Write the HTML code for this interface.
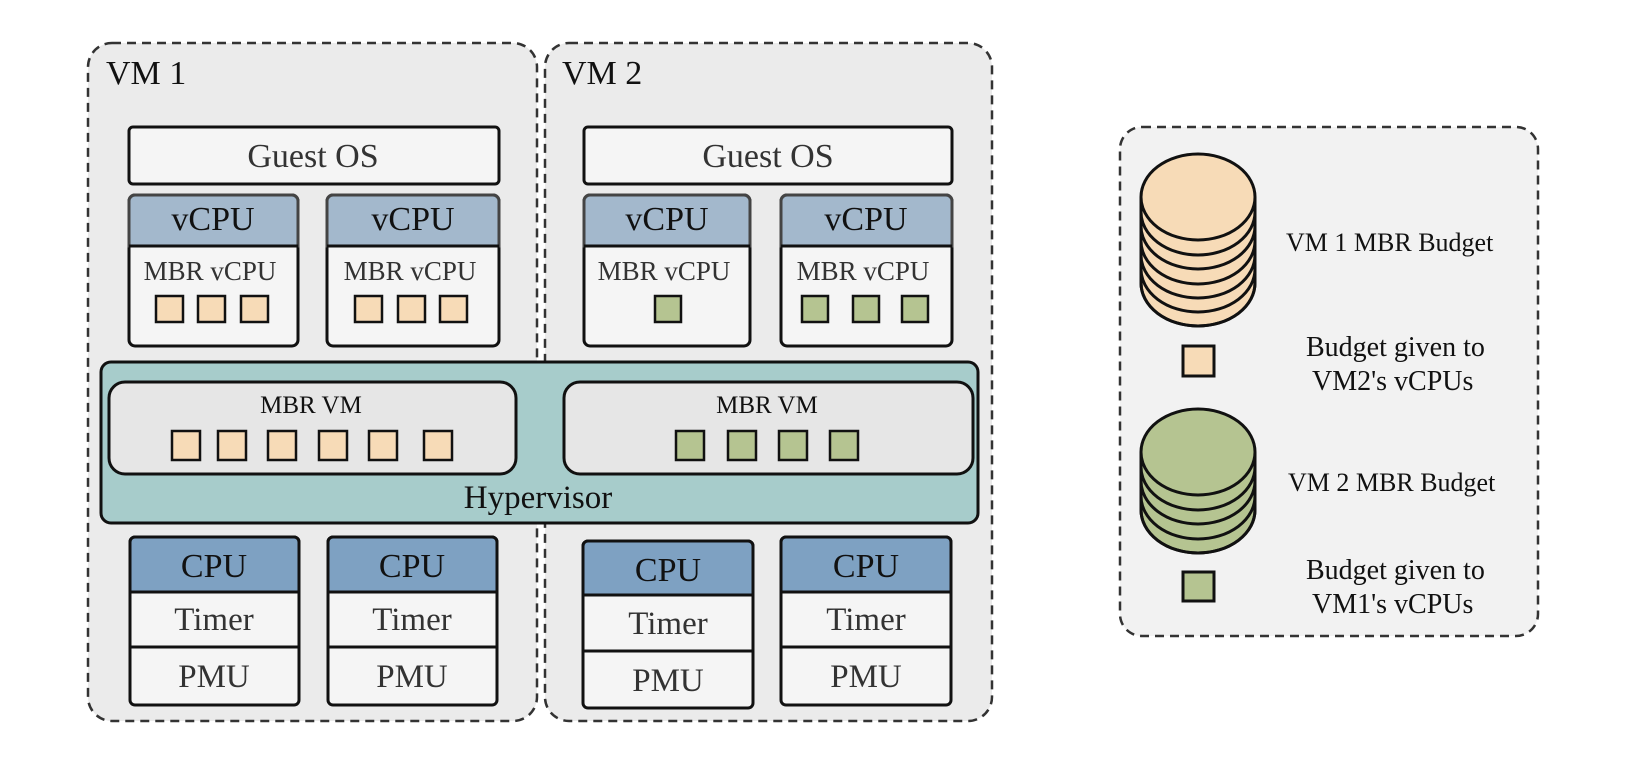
<!DOCTYPE html>
<html><head><meta charset="utf-8"><style>html,body{margin:0;padding:0;background:#fff}svg{display:block}</style></head>
<body>
<svg width="1628" height="765" viewBox="0 0 1628 765" xmlns="http://www.w3.org/2000/svg" font-family="Liberation Serif, serif">
<!-- VM containers -->
<rect x="88" y="43" width="449" height="678" rx="24" fill="#ebebeb" stroke="#333" stroke-width="2.5" stroke-dasharray="9 6"/>
<rect x="545" y="43" width="447" height="678" rx="24" fill="#ebebeb" stroke="#333" stroke-width="2.5" stroke-dasharray="9 6"/>
<text x="106" y="84" font-size="34" fill="#111">VM 1</text>
<text x="562" y="84" font-size="34" fill="#111">VM 2</text>

<g stroke="#111" stroke-width="3">
<rect x="129" y="127" width="370" height="57" rx="4" fill="#f5f5f5"/>
<rect x="584" y="127" width="368" height="57" rx="4" fill="#f5f5f5"/>
<rect x="129" y="195" width="169" height="151" rx="6" fill="#f5f5f5"/>
<path d="M129 246 V201 a6 6 0 0 1 6 -6 H292 a6 6 0 0 1 6 6 V246 Z" fill="#a3b8cc" stroke="#444"/>
<rect x="327" y="195" width="172" height="151" rx="6" fill="#f5f5f5"/>
<path d="M327 246 V201 a6 6 0 0 1 6 -6 H493 a6 6 0 0 1 6 6 V246 Z" fill="#a3b8cc" stroke="#444"/>
<rect x="584" y="195" width="166" height="151" rx="6" fill="#f5f5f5"/>
<path d="M584 246 V201 a6 6 0 0 1 6 -6 H744 a6 6 0 0 1 6 6 V246 Z" fill="#a3b8cc" stroke="#444"/>
<rect x="781" y="195" width="171" height="151" rx="6" fill="#f5f5f5"/>
<path d="M781 246 V201 a6 6 0 0 1 6 -6 H946 a6 6 0 0 1 6 6 V246 Z" fill="#a3b8cc" stroke="#444"/>
<line x1="129" y1="246" x2="298" y2="246"/><line x1="327" y1="246" x2="499" y2="246"/>
<line x1="584" y1="246" x2="750" y2="246"/><line x1="781" y1="246" x2="952" y2="246"/>
</g>
<g font-size="34" fill="#111" text-anchor="middle">
<text x="313" y="167" fill="#333">Guest OS</text>
<text x="768" y="167" fill="#333">Guest OS</text>
<text x="213" y="230">vCPU</text><text x="413" y="230">vCPU</text>
<text x="667" y="230">vCPU</text><text x="866" y="230">vCPU</text>
</g>
<g font-size="27" fill="#333" text-anchor="middle">
<text x="210" y="280">MBR vCPU</text><text x="410" y="280">MBR vCPU</text>
<text x="664" y="280">MBR vCPU</text><text x="863" y="280">MBR vCPU</text>
</g>
<g stroke="#111" stroke-width="2.5" fill="#f7dbb7">
<rect x="156" y="296" width="27" height="26"/><rect x="198" y="296" width="27" height="26"/><rect x="241" y="296" width="27" height="26"/>
<rect x="355" y="296" width="27" height="26"/><rect x="398" y="296" width="27" height="26"/><rect x="440" y="296" width="27" height="26"/>
</g>
<g stroke="#111" stroke-width="2.5" fill="#b5c491">
<rect x="655" y="296" width="26" height="26"/>
<rect x="802" y="296" width="26" height="26"/><rect x="853" y="296" width="26" height="26"/><rect x="902" y="296" width="26" height="26"/>
</g>

<!-- Hypervisor -->
<rect x="101" y="362" width="877" height="161" rx="10" fill="#a7cccb" stroke="#111" stroke-width="3"/>
<rect x="109" y="382" width="407" height="92" rx="16" fill="#e6e6e6" stroke="#111" stroke-width="3"/>
<rect x="564" y="382" width="409" height="92" rx="16" fill="#e6e6e6" stroke="#111" stroke-width="3"/>
<text x="311" y="413" font-size="25" text-anchor="middle" fill="#111">MBR VM</text>
<text x="767" y="413" font-size="25" text-anchor="middle" fill="#111">MBR VM</text>
<text x="538" y="508" font-size="33" text-anchor="middle" fill="#111">Hypervisor</text>
<g stroke="#111" stroke-width="2.5" fill="#f7dbb7">
<rect x="172" y="431" width="28" height="29"/><rect x="218" y="431" width="28" height="29"/><rect x="268" y="431" width="28" height="29"/>
<rect x="319" y="431" width="28" height="29"/><rect x="369" y="431" width="28" height="29"/><rect x="424" y="431" width="28" height="29"/>
</g>
<g stroke="#111" stroke-width="2.5" fill="#b5c491">
<rect x="676" y="431" width="28" height="29"/><rect x="728" y="431" width="28" height="29"/><rect x="779" y="431" width="28" height="29"/><rect x="830" y="431" width="28" height="29"/>
</g>

<!-- CPUs -->
<g stroke="#111" stroke-width="3">
<rect x="130" y="537" width="169" height="168" rx="5" fill="#f5f5f5"/>
<path d="M130 592 V542 a5 5 0 0 1 5 -5 H294 a5 5 0 0 1 5 5 V592 Z" fill="#7ea1c2"/>
<line x1="130" y1="647" x2="299" y2="647"/>
<rect x="328" y="537" width="169" height="168" rx="5" fill="#f5f5f5"/>
<path d="M328 592 V542 a5 5 0 0 1 5 -5 H492 a5 5 0 0 1 5 5 V592 Z" fill="#7ea1c2"/>
<line x1="328" y1="647" x2="497" y2="647"/>
<rect x="583" y="541" width="170" height="167" rx="5" fill="#f5f5f5"/>
<path d="M583 595 V546 a5 5 0 0 1 5 -5 H748 a5 5 0 0 1 5 5 V595 Z" fill="#7ea1c2"/>
<line x1="583" y1="651" x2="753" y2="651"/>
<rect x="781" y="537" width="170" height="168" rx="5" fill="#f5f5f5"/>
<path d="M781 592 V542 a5 5 0 0 1 5 -5 H946 a5 5 0 0 1 5 5 V592 Z" fill="#7ea1c2"/>
<line x1="781" y1="647" x2="951" y2="647"/>
</g>
<g font-size="34" text-anchor="middle" fill="#111">
<text x="214" y="577">CPU</text><text x="412" y="577">CPU</text><text x="668" y="581">CPU</text><text x="866" y="577">CPU</text>
</g>
<g font-size="33" text-anchor="middle" fill="#333">
<text x="214" y="630">Timer</text><text x="412" y="630">Timer</text><text x="668" y="634">Timer</text><text x="866" y="630">Timer</text>
<text x="214" y="687">PMU</text><text x="412" y="687">PMU</text><text x="668" y="691">PMU</text><text x="866" y="687">PMU</text>
</g>

<!-- Legend -->
<rect x="1120" y="127" width="418" height="509" rx="22" fill="#f2f2f2" stroke="#333" stroke-width="2.5" stroke-dasharray="9 6"/>
<g stroke="#111" stroke-width="3" fill="#f7dbb7">
<path d="M1141 197 V283 A57 43 0 0 0 1255 283 V197"/>
<ellipse cx="1198" cy="269" rx="57" ry="43"/>
<ellipse cx="1198" cy="255" rx="57" ry="43"/>
<ellipse cx="1198" cy="241" rx="57" ry="43"/>
<ellipse cx="1198" cy="226" rx="57" ry="43"/>
<ellipse cx="1198" cy="212" rx="57" ry="43"/>
<ellipse cx="1198" cy="197" rx="57" ry="43"/>
<path d="M1141 283 A57 43 0 0 0 1255 283" fill="none"/>
<rect x="1183" y="346" width="31" height="30"/>
</g>
<g stroke="#111" stroke-width="3" fill="#b5c491">
<path d="M1141 452 V510 A57 43 0 0 0 1255 510 V452"/>
<ellipse cx="1198" cy="496" rx="57" ry="43"/>
<ellipse cx="1198" cy="481" rx="57" ry="43"/>
<ellipse cx="1198" cy="467" rx="57" ry="43"/>
<ellipse cx="1198" cy="452" rx="57" ry="43"/>
<path d="M1141 510 A57 43 0 0 0 1255 510" fill="none"/>
<rect x="1183" y="572" width="31" height="29"/>
</g>
<g font-size="26" fill="#111">
<text x="1286" y="251">VM 1 MBR Budget</text>
<text x="1306" y="356" font-size="28">Budget given to</text>
<text x="1312" y="390" font-size="28">VM2's vCPUs</text>
<text x="1288" y="491">VM 2 MBR Budget</text>
<text x="1306" y="579" font-size="28">Budget given to</text>
<text x="1312" y="613" font-size="28">VM1's vCPUs</text>
</g>
</svg>
</body></html>
